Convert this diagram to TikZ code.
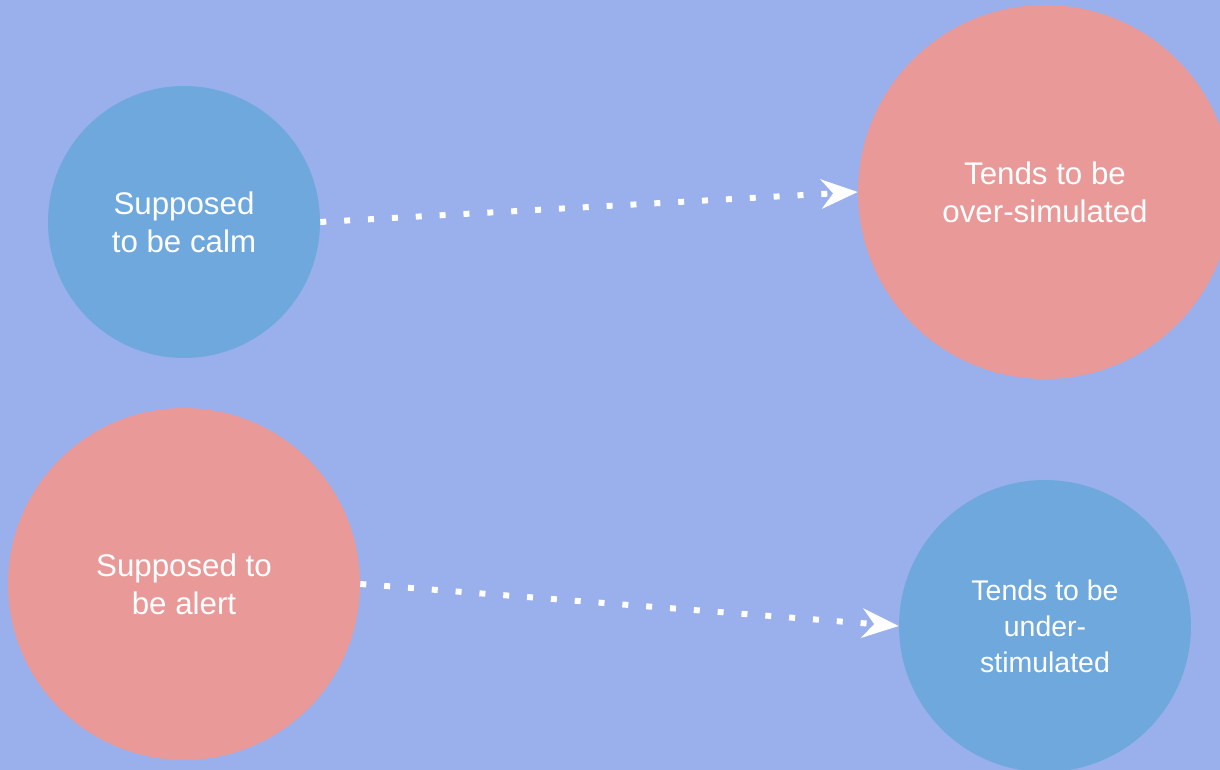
\documentclass[tikz,border=0pt]{standalone}
\usepackage{fontspec}
\setmainfont{Liberation Sans}
\usepackage{tikz}
\usetikzlibrary{arrows.meta}
\definecolor{bgblue}{HTML}{99B0EC}
\definecolor{calmblue}{HTML}{6FA8DC}
\definecolor{alertred}{HTML}{EA9999}
\tikzset{
state/.style={
  circle,
  inner sep=0pt,
  text=white,
  align=center,
  font=\fontsize{17.8pt}{21.5pt}\selectfont
  },
line/.style={
  draw=white,
  line width=3.4pt,
  dash pattern=on 3.4pt off 10.2pt,
  -{Stealth[length=21pt, width=17pt, inset=7pt, fill=white, line width=0pt]}
  }
}

\begin{document}
\begin{tikzpicture}[x=0.02cm, y=-0.02cm]
\fill[bgblue] (0,0) rectangle (1220,770);
\useasboundingbox (0,0) rectangle (1220,770);
\clip (0,0) rectangle (1220,770);
\node[state, fill=calmblue, minimum size=5.44cm] (calm) at (184,222) {Supposed\\to be calm};
\node[state, fill=alertred, minimum size=7.48cm] (over) at (1045,192) {Tends to be\\over-simulated};
\node[state, fill=alertred, minimum size=7.04cm] (alert) at (184,584) {Supposed to\\be alert};
\node[state, fill=calmblue, minimum size=5.84cm,
  font=\fontsize{16.2pt}{20.4pt}\selectfont] (under) at (1045,626) {Tends to be\\under-\\stimulated};
\draw[line] (calm.east) -- (over.west);
\draw[line] (alert.east) -- (under.west);
\end{tikzpicture}
\end{document}
